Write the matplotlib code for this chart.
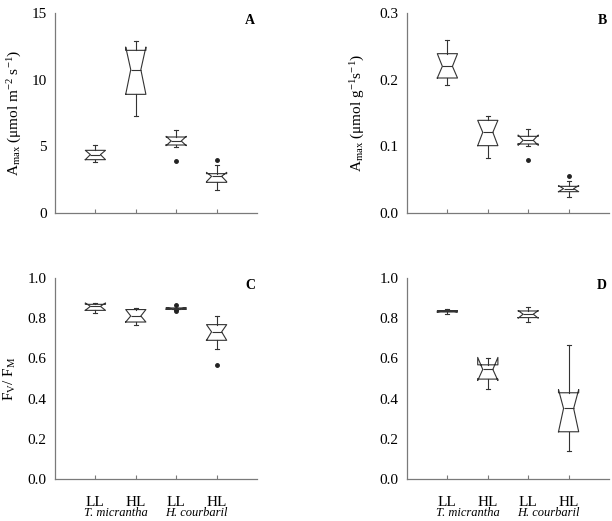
import matplotlib
matplotlib.use('Agg')
import matplotlib.pyplot as plt
from matplotlib.transforms import blended_transform_factory

plt.rcParams['font.family'] = ['Liberation Serif', 'DejaVu Serif']
plt.rcParams['mathtext.fontset'] = 'custom'
plt.rcParams['mathtext.rm'] = 'Liberation Serif'
plt.rcParams['mathtext.it'] = 'Liberation Serif:italic'

groups = ['LL', 'HL', 'LL', 'HL']
species = ['T. micrantha', 'H. courbaril']

# A: Amax per area
a_whislo = [3.80, 7.30, 4.95, 1.70]
a_q1 = [4.00, 8.90, 5.10, 2.30]
a_med = [4.38, 10.75, 5.40, 2.75]
a_q3 = [4.70, 12.20, 5.70, 2.95]
a_whishi = [5.10, 12.90, 6.25, 3.60]
a_cilo = [4.00, 8.90, 5.05, 2.35]
a_cihi = [4.70, 12.45, 5.75, 3.05]
a_fliers = [[], [], [3.90], [3.95]]

# B: Amax per mass
b_whislo = [0.1915, 0.0825, 0.1000, 0.0235]
b_q1 = [0.2025, 0.1010, 0.1035, 0.0320]
b_med = [0.2200, 0.1210, 0.1090, 0.0365]
b_q3 = [0.2390, 0.1390, 0.1150, 0.0400]
b_whishi = [0.2600, 0.1450, 0.1260, 0.0475]
b_cilo = [0.2025, 0.1010, 0.1015, 0.0320]
b_cihi = [0.2390, 0.1390, 0.1170, 0.0410]
b_fliers = [[], [], [0.080], [0.055]]

# C: Fv/Fm
c_whislo = [0.826, 0.767, 0.842, 0.646]
c_q1 = [0.839, 0.781, 0.845, 0.690]
c_med = [0.859, 0.811, 0.848, 0.732]
c_q3 = [0.869, 0.843, 0.851, 0.768]
c_whishi = [0.876, 0.853, 0.853, 0.810]
c_cilo = [0.839, 0.781, 0.844, 0.690]
c_cihi = [0.876, 0.843, 0.852, 0.768]
c_fliers = [[], [], [0.838, 0.866], [0.565]]

# D: Fv/Fm
d_whislo = [0.823, 0.447, 0.781, 0.141]
d_q1 = [0.831, 0.497, 0.803, 0.235]
d_med = [0.835, 0.545, 0.820, 0.351]
d_q3 = [0.838, 0.568, 0.836, 0.429]
d_whishi = [0.844, 0.600, 0.856, 0.669]
d_cilo = [0.831, 0.490, 0.800, 0.235]
d_cihi = [0.838, 0.605, 0.838, 0.445]
d_fliers = [[], [], [], []]


def make_stats(whislo, q1, med, q3, whishi, cilo, cihi, fliers):
    out = []
    for i in range(len(med)):
        out.append(dict(whislo=whislo[i], q1=q1[i], med=med[i], q3=q3[i],
                        whishi=whishi[i], cilo=cilo[i], cihi=cihi[i],
                        fliers=fliers[i]))
    return out


fig = plt.figure(figsize=(6.12, 5.21), dpi=100)
boxcol = '#333333'
spcol = '#7a7a7a'

panels = [
    ('A', [55/612, 1-213/521, 202/612, 200/521],
     make_stats(a_whislo, a_q1, a_med, a_q3, a_whishi, a_cilo, a_cihi, a_fliers),
     (0, 15), [0, 5, 10, 15], ['0', '5', '10', '15'],
     r'A$_{\mathrm{max}}$ (μmol m$^{\mathrm{-2}}$ s$^{\mathrm{-1}}$)', -0.155),
    ('B', [407/612, 1-213/521, 202/612, 200/521],
     make_stats(b_whislo, b_q1, b_med, b_q3, b_whishi, b_cilo, b_cihi, b_fliers),
     (0, 0.3), [0, 0.1, 0.2, 0.3], ['0.0', '0.1', '0.2', '0.3'],
     r'A$_{\mathrm{max}}$ (μmol g$^{\mathrm{-1}}$s$^{\mathrm{-1}}$)', -0.2),
    ('C', [55/612, 1-479/521, 202/612, 201/521],
     make_stats(c_whislo, c_q1, c_med, c_q3, c_whishi, c_cilo, c_cihi, c_fliers),
     (0, 1), [0, 0.2, 0.4, 0.6, 0.8, 1.0], ['0.0', '0.2', '0.4', '0.6', '0.8', '1.0'],
     r'F$_{\mathrm{V}}$/ F$_{\mathrm{M}}$', -0.185),
    ('D', [407/612, 1-479/521, 202/612, 201/521],
     make_stats(d_whislo, d_q1, d_med, d_q3, d_whishi, d_cilo, d_cihi, d_fliers),
     (0, 1), [0, 0.2, 0.4, 0.6, 0.8, 1.0], ['0.0', '0.2', '0.4', '0.6', '0.8', '1.0'],
     None, -0.21),
]

for letter, rect, stats, ylim, yticks, yticklabels, ylabel, lx in panels:
    ax = fig.add_axes(rect)
    ax.bxp(stats, positions=[1, 2, 3, 4], widths=0.5, shownotches=True,
           capwidths=0.1,
           boxprops=dict(color=boxcol, linewidth=0.8),
           whiskerprops=dict(color=boxcol, linewidth=0.8),
           capprops=dict(color=boxcol, linewidth=0.8),
           medianprops=dict(color=boxcol, linewidth=0.8),
           flierprops=dict(marker='o', markersize=2.5, markerfacecolor='#222222',
                           markeredgecolor='#222222'))
    ax.set_xlim(0, 5)
    ax.set_ylim(*ylim)
    ax.set_yticks(yticks)
    ax.set_yticklabels(yticklabels, fontsize=11)
    ax.tick_params(axis='y', length=0, pad=6)
    ax.tick_params(axis='x', direction='in', length=3, color=spcol, pad=12)
    ax.set_xticks([1, 2, 3, 4])
    for s in ['top', 'right']:
        ax.spines[s].set_visible(False)
    for s in ['left', 'bottom']:
        ax.spines[s].set_color(spcol)
        ax.spines[s].set_linewidth(0.9)
    ax.text(0.965, 0.965, letter, transform=ax.transAxes, ha='center', va='center',
            fontsize=10, fontweight='bold')
    if ylabel:
        ax.set_ylabel(ylabel, fontsize=11)
        ax.yaxis.set_label_coords(lx, 0.5)
    if letter in ('C', 'D'):
        ax.set_xticklabels(groups, fontsize=11)
        tr = blended_transform_factory(ax.transData, ax.transAxes)
        ax.text(1.5, -0.17, species[0], transform=tr, ha='center', va='center',
                fontsize=9, style='italic')
        ax.text(3.5, -0.17, species[1], transform=tr, ha='center', va='center',
                fontsize=9, style='italic')
    else:
        ax.set_xticklabels([])

fig.savefig('out.png', dpi=100)
